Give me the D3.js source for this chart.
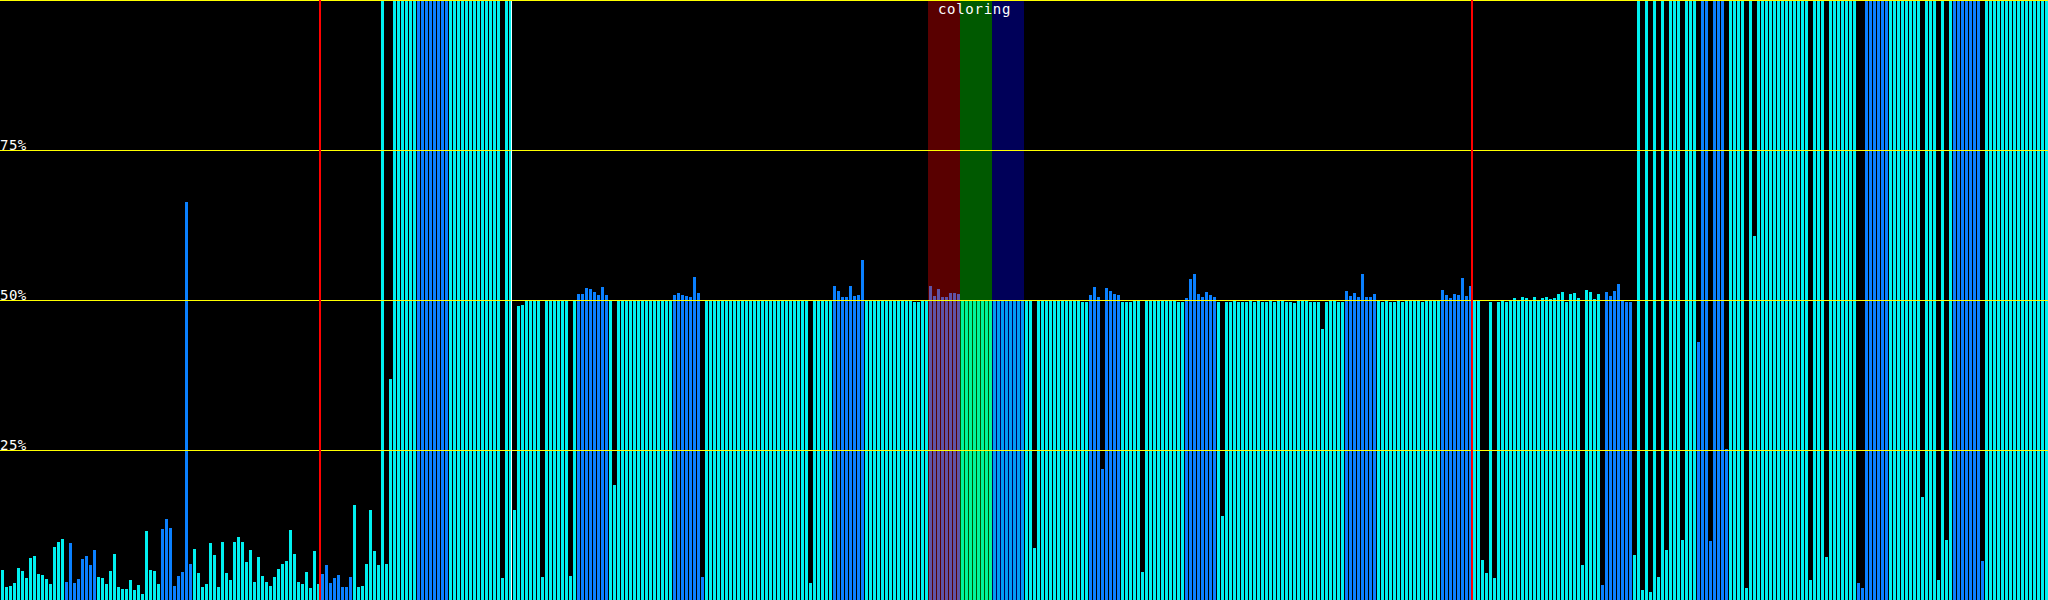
<!DOCTYPE html>
<html><head><meta charset="utf-8">
<script src="https://cdn.jsdelivr.net/npm/d3@7"></script>
<style>html,body{margin:0;padding:0;background:#000;overflow:hidden}svg{display:block}</style>
</head><body><svg id="chart"></svg>
<script>
// ---- data ----
const values = [
5.0,2.2,2.4,2.8,5.4,4.8,3.7,7.0,7.4,4.3,4.1,3.5,2.7,8.9,9.7,10.1,
3.0,9.5,2.8,3.5,6.8,7.3,5.9,8.4,
3.9,3.6,2.6,4.8,7.7,2.2,1.8,1.8,3.3,1.7,2.5,1.0,11.5,5.0,4.8,2.7,
11.9,13.5,12.0,2.4,4.0,4.7,66.3,6.0,
8.5,4.5,2.2,2.7,9.5,7.5,2.2,9.7,4.5,3.3,9.7,10.5,9.7,6.3,8.4,3.0,
7.1,4.0,3.0,2.4,3.8,5.2,6.0,6.5,11.7,7.7,3.0,2.7,4.7,2.0,8.2,2.7,
4.3,5.8,2.8,3.6,4.1,2.2,2.2,3.8,
15.8,2.2,2.4,6.0,15.0,8.2,5.8,100,6.0,36.9,100,100,100,100,100,100,
100,100,100,100,100,100,100,100,
100,100,100,100,100,100,100,100,100,100,100,100,100,3.6,100,100,
15.0,49.0,49.2,50,50,50,50,3.8,50,50,50,50,50,50,4.0,50,
51.0,51.0,52.0,51.9,51.3,50.8,52.2,50.8,
50,19.2,50,50,50,50,50,50,50,50,50,50,50,50,50,50,
50.8,51.1,50.8,50.6,50.5,53.8,51.1,3.8,
50,50,50,50,50,50,50,50,50,50,50,50,50,50,50,50,
50,50,50,50,50,50,50,50,50,50,2.8,50,50,50,50,50,
52.4,51.5,50.5,50.5,52.4,50.6,50.8,56.7,
50,50,50,50,50,50,50,50,50,50,50,50,49.7,49.7,50,50,
52.4,50.6,51.9,50.5,50.5,51.1,51.1,51.0,
50,50,50,50,50,50,50,50,
50,50,50,50,50,50,50,50,
50,50,8.7,50,50,50,50,50,50,50,50,50,50,50,49.7,49.7,
50.8,52.2,50.5,21.8,52.0,51.5,51.0,50.8,
49.7,49.7,49.7,50,50,4.7,50,50,50,50,50,50,50,50,49.7,49.7,
50.3,53.5,54.3,51.0,50.5,51.3,50.8,50.5,
49.7,14.0,49.7,49.7,50,49.7,49.7,49.7,50,49.7,50,49.7,49.7,50,49.7,50,
50,49.7,49.7,49.5,50,50,50,49.7,49.7,49.7,45.2,49.7,50,50,49.7,49.7,
51.5,50.6,51.1,50.5,54.3,50.5,50.5,51.0,
50,49.7,50,49.7,49.7,50,49.7,50,50,50,50,49.7,50,50,50,50,
51.7,50.8,50.3,51.0,50.8,53.6,50.6,52.4,
50,50,6.7,4.5,49.7,3.6,49.7,50,49.7,50,50.3,50,50.5,50.3,50,50.5,
50,50.3,50.5,50.2,50.3,51.0,51.3,49.7,51.0,51.1,50.3,5.8,51.7,51.3,50.2,51.0,
2.5,51.3,50.6,51.5,52.7,50,49.7,49.7,
7.5,100,1.7,100,1.3,100,3.8,100,8.4,100,100,100,10.0,100,100,100,
43.0,100,100,9.8,100,100,100,25.2,
100,100,100,100,2.0,100,60.7,100,100,100,100,100,100,100,100,100,
100,100,100,100,3.3,100,100,100,7.1,100,100,100,100,100,100,100,
2.8,2.0,100,100,100,100,100,100,
100,100,100,100,100,100,100,100,17.2,100,100,100,3.3,100,10.0,100,
100,100,100,100,100,100,100,6.5,
100,100,100,100,100,100,100,100,100,100,100,100,100,100,100,100
];
// c = cyan kind, b = blue kind (one letter per bar)
const kinds = (
"ccccccccccccccccbbbbbbbbccccccccccccccccbbbbbbbbcccccccccccccccc" +
"ccccccccccccccccbbbbbbbbccccccccccccccccbbbbbbbbcccccccccccccccc" +
"ccccccccccccccccbbbbbbbbccccccccccccccccbbbbbbbbcccccccccccccccc" +
"ccccccccccccccccbbbbbbbbccccccccccccccccbbbbbbbbcccccccccccccccc" +
"ccccccccccccccccbbbbbbbbccccccccccccccccbbbbbbbbcccccccccccccccc" +
"ccccccccccccccccbbbbbbbbccccccccccccccccbbbbbbbbcccccccccccccccc" +
"ccccccccccccccccbbbbbbbbccccccccccccccccbbbbbbbbcccccccccccccccc" +
"ccccccccccccccccbbbbbbbbccccccccccccccccbbbbbbbbcccccccccccccccc").split("");
const tickValues = [25, 50, 75];
const tickLabels = ["25%", "50%", "75%"];
const markerBars = [80, 368];
const cursorBar = 127;
const phaseNames = ["red", "green", "blue"];
const phaseStartBars = [232, 240, 248];
const phaseLength = 8;
const phaseTitle = "coloring";

// ---- styles ----
const W = 2048, H = 600;
const kindColor = {c: "#00f0f0", b: "#0a80ff"};
const phaseColor = {red: "rgba(255,0,0,0.35)", green: "rgba(0,255,0,0.35)", blue: "rgba(0,0,255,0.35)"};
const font = "'DejaVu Sans Mono', monospace";

const svg = d3.select("#chart").attr("width", W).attr("height", H);
svg.append("rect").attr("width", W).attr("height", H).attr("fill", "#000");

const x = d3.scaleBand().domain(d3.range(values.length)).range([0, W])
  .paddingInner(0.25).paddingOuter(0.125).align(1);
const y = d3.scaleLinear().domain([0, 100]).range([H, 0]);
const step = x.step();

svg.append("g").attr("shape-rendering", "crispEdges")
  .selectAll("rect").data(values).join("rect")
  .attr("x", (d, i) => x(i)).attr("y", d => Math.max(y(d), 1))
  .attr("width", x.bandwidth()).attr("height", d => H - Math.max(y(d), 1))
  .attr("fill", (d, i) => kindColor[kinds[i]]);

// phase overlays
svg.append("g").attr("shape-rendering", "crispEdges")
  .selectAll("rect").data(phaseNames).join("rect")
  .attr("x", (d, i) => x(phaseStartBars[i]) - (step - x.bandwidth()))
  .attr("y", 0)
  .attr("width", step * phaseLength)
  .attr("height", H)
  .attr("fill", d => phaseColor[d]);

// grid lines
const grid = svg.append("g").attr("shape-rendering", "crispEdges");
grid.selectAll("line").data([100].concat(tickValues)).join("line")
  .attr("x1", 0).attr("x2", W)
  .attr("y1", d => Math.min(Math.round(y(d)), H - 1) + 0.5)
  .attr("y2", d => Math.min(Math.round(y(d)), H - 1) + 0.5)
  .attr("stroke", "#ffff00").attr("stroke-width", 1);

// cursor line
svg.append("line").attr("shape-rendering", "crispEdges")
  .attr("x1", x(cursorBar) + x.bandwidth() - 0.5).attr("x2", x(cursorBar) + x.bandwidth() - 0.5)
  .attr("y1", 1).attr("y2", H).attr("stroke", "#e8ffff").attr("stroke-width", 1);

// marker lines
svg.append("g").attr("shape-rendering", "crispEdges")
  .selectAll("line").data(markerBars).join("line")
  .attr("x1", d => x(d) - 1).attr("x2", d => x(d) - 1)
  .attr("y1", 0).attr("y2", H)
  .attr("stroke", "#ff0000").attr("stroke-width", 2);

// tick labels
svg.append("g").selectAll("text").data(tickValues).join("text")
  .attr("x", 0).attr("y", d => y(d))
  .attr("fill", "#fff").attr("font-family", font).attr("font-size", 14)
  .attr("letter-spacing", "0.5px")
  .text((d, i) => tickLabels[i]);

// phase title
const pStart = x(phaseStartBars[0]) - 1;
const pEnd = x(phaseStartBars[phaseStartBars.length - 1]) + step * phaseLength;
svg.append("text")
  .attr("x", (pStart + pEnd) / 2 - 2).attr("y", 14)
  .attr("text-anchor", "middle")
  .attr("fill", "#fff").attr("font-family", font).attr("font-size", 14)
  .attr("letter-spacing", "0.7px")
  .text(phaseTitle);
</script></body></html>
